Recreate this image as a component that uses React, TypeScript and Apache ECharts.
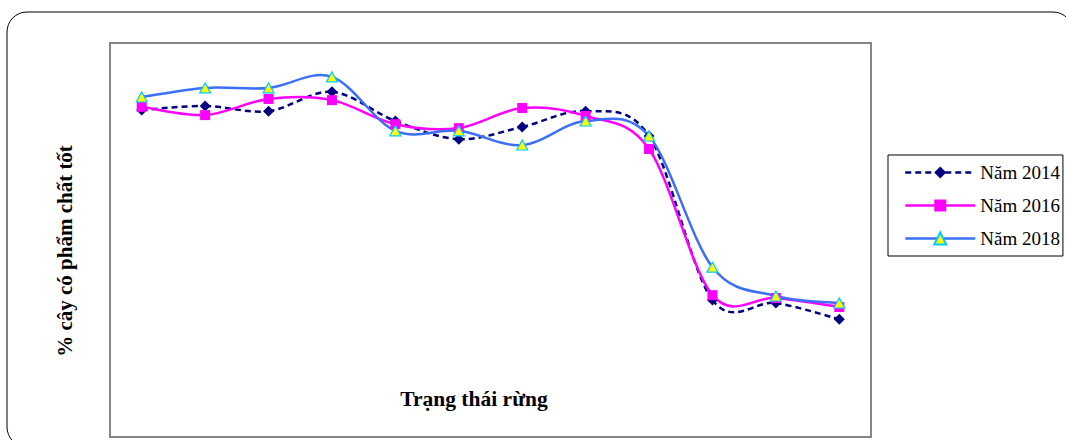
import React, { useEffect, useRef } from "react";
import * as echarts from "echarts";

const categories = ["1", "2", "3", "4", "5", "6", "7", "8", "9", "10", "11", "12"];
const seriesNames = ["Năm 2014", "Năm 2016", "Năm 2018"];
const values2014 = [83.0, 84.0, 82.7, 87.6, 80.2, 75.6, 78.7, 82.7, 76.4, 34.8, 34.0, 29.9];
const values2016 = [83.8, 81.7, 85.8, 85.5, 79.4, 78.4, 83.5, 81.5, 73.1, 36.0, 35.3, 33.0];
const values2018 = [86.3, 88.6, 88.6, 91.4, 77.7, 77.7, 74.1, 80.2, 76.4, 43.1, 35.8, 34.0];
const xTitle = "Trạng thái rừng";
const yTitle = "% cây có phẩm chất tốt";

const FONT = "'Liberation Serif', 'Times New Roman', serif";

const C2014 = "#000080";
const C2016 = "#FF00FF";
const C2018 = "#3B6FF5";

function curveSeries(id: string, vals: number[], color: string, dash: number[] | null, z: number) {
  const n = vals.length;
  return {
    id,
    name: id,
    type: "custom",
    data: vals.map((v, i) => [i, v]),
    encode: { x: 0, y: 1 },
    z,
    silent: true,
    renderItem: (params: any, api: any) => {
      const i = params.dataIndex;
      if (i >= n - 1) return null;
      const ia = Math.max(0, i - 1);
      const id2 = Math.min(n - 1, i + 2);
      const p0 = api.coord([ia, vals[ia]]);
      const p1 = api.coord([i, vals[i]]);
      const p2 = api.coord([i + 1, vals[i + 1]]);
      const p3 = api.coord([id2, vals[id2]]);
      const cp1x = p1[0] + (p2[0] - p0[0]) / 6;
      const cp1y = p1[1] + (p2[1] - p0[1]) / 6;
      const cp2x = p2[0] - (p3[0] - p1[0]) / 6;
      const cp2y = p2[1] - (p3[1] - p1[1]) / 6;
      return {
        type: "bezierCurve",
        shape: {
          x1: p1[0],
          y1: p1[1],
          x2: p2[0],
          y2: p2[1],
          cpx1: cp1x,
          cpy1: cp1y,
          cpx2: cp2x,
          cpy2: cp2y,
        },
        style: {
          fill: "none",
          stroke: color,
          lineWidth: 2.5,
          lineDash: dash || undefined,
        },
      };
    },
  };
}

export default function App() {
  const ref = useRef<HTMLDivElement>(null);
  useEffect(() => {
    if (!ref.current) return;
    const chart = echarts.init(ref.current, undefined, { renderer: "svg" });
    chart.setOption({
      animation: false,
      backgroundColor: "#ffffff",
      grid: {
        left: 110,
        top: 43,
        width: 761,
        height: 394,
        show: true,
        borderColor: "#878787",
        borderWidth: 2,
        backgroundColor: "transparent",
        containLabel: false,
      },
      xAxis: {
        type: "category",
        data: categories,
        boundaryGap: true,
        axisLine: { show: false },
        axisTick: { show: false },
        axisLabel: { show: false },
        splitLine: { show: false },
      },
      yAxis: {
        type: "value",
        min: 0,
        max: 100,
        axisLine: { show: false },
        axisTick: { show: false },
        axisLabel: { show: false },
        splitLine: { show: false },
      },
      legend: {
        orient: "vertical",
        left: 888,
        top: 155,
        padding: [8, 3, 8, 16],
        itemGap: 14,
        itemWidth: 70,
        itemHeight: 15,
        borderColor: "#000000",
        borderWidth: 1,
        borderRadius: 0,
        textStyle: { fontFamily: FONT, fontSize: 19, color: "#000000" },
        data: [
          {
            name: seriesNames[0],
            lineStyle: { color: C2014, width: 2.5, type: [6, 4], opacity: 1 },
          },
          {
            name: seriesNames[1],
            lineStyle: { color: C2016, width: 2.5, type: "solid", opacity: 1 },
          },
          {
            name: seriesNames[2],
            lineStyle: { color: C2018, width: 2.5, type: "solid", opacity: 1 },
          },
        ],
      },
      graphic: [
        {
          type: "rect",
          shape: { x: 7, y: 12, width: 1066, height: 435, r: 20 },
          style: { fill: "none", stroke: "#000000", lineWidth: 1 },
          silent: true,
          z: 100,
        },
        {
          type: "text",
          x: 474,
          y: 399,
          style: {
            text: xTitle,
            fontFamily: FONT,
            fontSize: 21.5,
            fontWeight: "bold",
            fill: "#000000",
            align: "center",
            verticalAlign: "middle",
          },
        },
        {
          type: "text",
          x: 65,
          y: 251,
          rotation: Math.PI / 2,
          style: {
            text: yTitle,
            fontFamily: FONT,
            fontSize: 21,
            fontWeight: "bold",
            fill: "#000000",
            align: "center",
            verticalAlign: "middle",
          },
        },
      ],
      series: [
        curveSeries("curve2014", values2014, C2014, [6, 4], 2),
        curveSeries("curve2016", values2016, C2016, null, 3),
        curveSeries("curve2018", values2018, C2018, null, 4),
        {
          name: seriesNames[0],
          type: "line",
          data: values2014,
          symbol: "diamond",
          symbolSize: 11,
          itemStyle: { color: C2014 },
          lineStyle: { color: C2014, width: 2.5, type: [6, 4], opacity: 0 },
          z: 6,
        },
        {
          name: seriesNames[1],
          type: "line",
          data: values2016,
          symbol: "rect",
          symbolSize: 10,
          itemStyle: { color: C2016 },
          lineStyle: { color: C2016, width: 2.5, opacity: 0 },
          z: 7,
        },
        {
          name: seriesNames[2],
          type: "line",
          data: values2018,
          symbol: "triangle",
          symbolSize: [11, 10],
          itemStyle: { color: "#FFFF00", borderColor: "#00CCFF", borderWidth: 1.2 },
          lineStyle: { color: C2018, width: 2.5, opacity: 0 },
          z: 8,
        },
      ],
    });
    return () => chart.dispose();
  }, []);
  return (
    <div
      ref={ref}
      style={{ position: "absolute", left: 0, top: 0, width: 1066, height: 440 }}
    />
  );
}
